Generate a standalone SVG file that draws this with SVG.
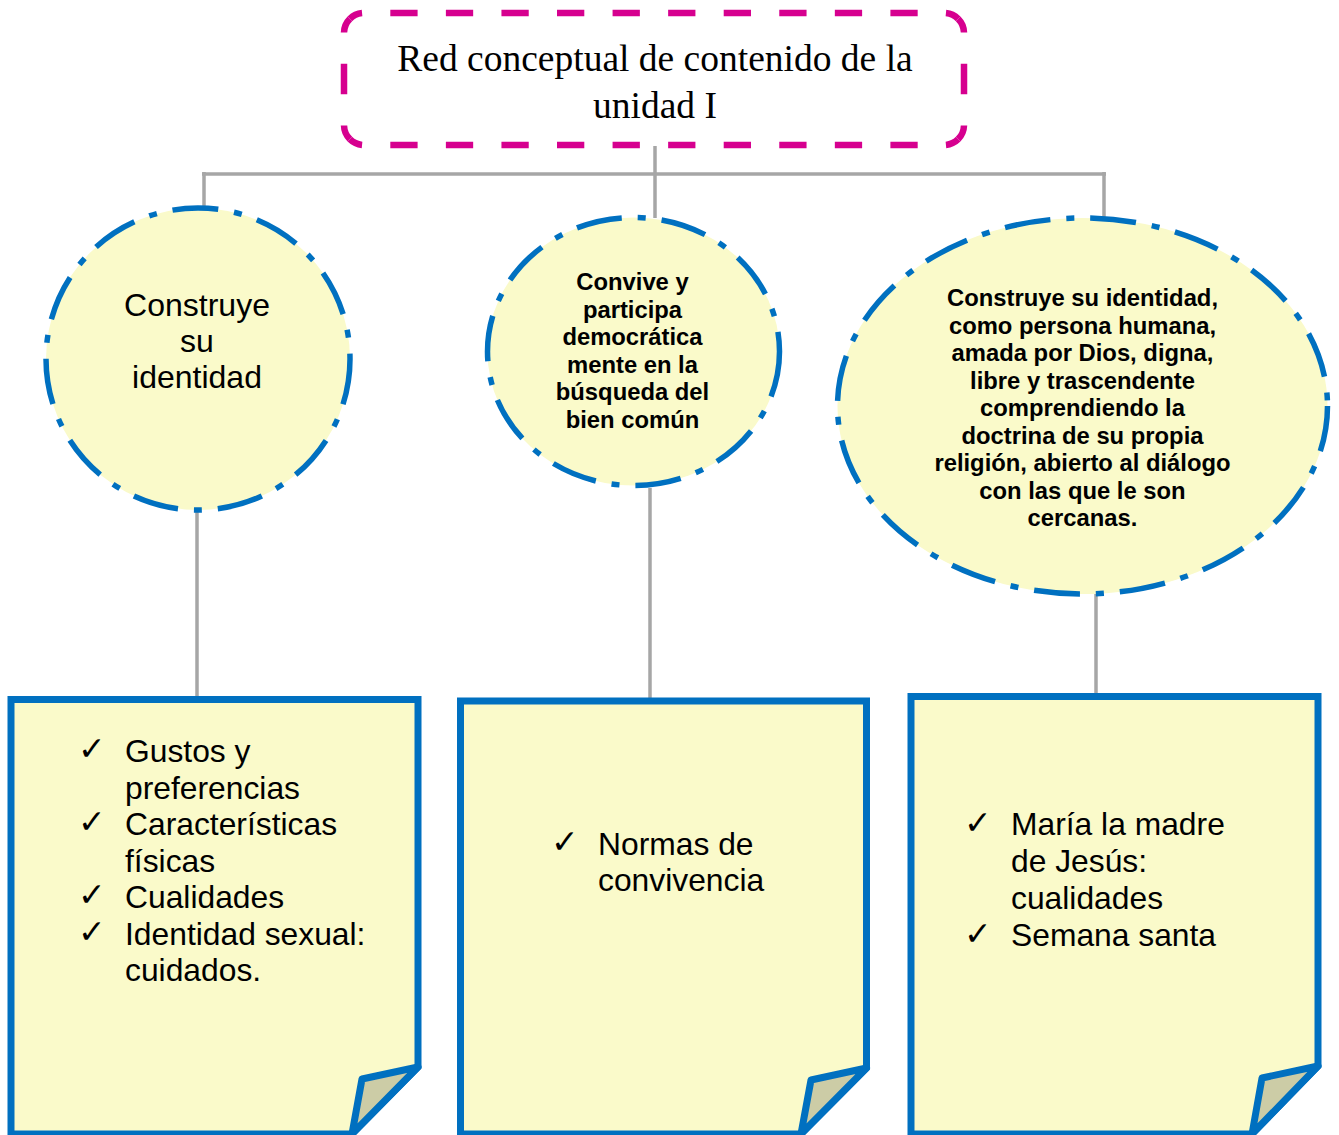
<svg xmlns="http://www.w3.org/2000/svg" width="1339" height="1135" viewBox="0 0 1339 1135">
<style>
.conn{stroke:#A6A6A6;stroke-width:3.5;fill:none}
.oval{fill:#FAFACA;stroke:#0070C0;stroke-width:5.5;stroke-dasharray:46 16 8 16}
.note{fill:#FAFACA;stroke:#0070C0;stroke-width:7;stroke-linejoin:miter}
.fold{fill:#CCCCA6;stroke:#0070C0;stroke-width:7;stroke-linejoin:round}
.reg{font-family:"Liberation Sans",Arial,sans-serif;font-size:31.8px;fill:#000}
.bold{font-family:"Liberation Sans",Arial,sans-serif;font-size:23.8px;font-weight:bold;fill:#000}
.chk{font-family:"DejaVu Sans",sans-serif;font-size:33px;fill:#000}
.title{font-family:"Liberation Serif","Times New Roman",serif;font-size:37.5px;fill:#000}
.tb{fill:none;stroke:#D6008F;stroke-width:6.5;stroke-dasharray:27.5 28.5;stroke-dashoffset:13.75}
</style>
<rect width="1339" height="1135" fill="#FFFFFF"/>
<g id="connectors">
<line class="conn" x1="655" y1="146" x2="655" y2="218"/>
<line class="conn" x1="202" y1="174" x2="1106" y2="174"/>
<line class="conn" x1="204" y1="172" x2="204" y2="208"/>
<line class="conn" x1="1104" y1="172" x2="1104" y2="219"/>
<line class="conn" x1="197" y1="512" x2="197" y2="698"/>
<line class="conn" x1="650" y1="488" x2="650" y2="700"/>
<line class="conn" x1="1096" y1="594" x2="1096" y2="696"/>
</g>
<g id="title">
<rect x="344" y="13" width="620" height="132" rx="20" ry="20" fill="#FFFFFF"/>
<path class="tb" pathLength="616" d="M349.86 18.86 A20 20 0 0 1 364 13 H944 A20 20 0 0 1 958.14 18.86"/>
<path class="tb" pathLength="112" d="M958.14 18.86 A20 20 0 0 1 964 33 V125 A20 20 0 0 1 958.14 139.14"/>
<path class="tb" pathLength="616" d="M958.14 139.14 A20 20 0 0 1 944 145 H364 A20 20 0 0 1 349.86 139.14"/>
<path class="tb" pathLength="112" d="M349.86 139.14 A20 20 0 0 1 344 125 V33 A20 20 0 0 1 349.86 18.86"/>
<text class="title" x="655" y="71" text-anchor="middle">Red conceptual de contenido de la</text>
<text class="title" x="655" y="118" text-anchor="middle">unidad I</text>
</g>
<g id="node1">
<ellipse class="oval" cx="198" cy="359" rx="152" ry="151"/>
<text class="reg" style="font-size:32px" text-anchor="middle"><tspan x="197" y="316">Construye</tspan><tspan x="197" y="352">su</tspan><tspan x="197" y="388">identidad</tspan></text>
</g>
<g id="node2">
<ellipse class="oval" cx="633.5" cy="351.5" rx="146" ry="134"/>
<text class="bold" text-anchor="middle"><tspan x="632.5" y="290">Convive y</tspan><tspan x="632.5" y="317.5">participa</tspan><tspan x="632.5" y="345">democrática</tspan><tspan x="632.5" y="372.5">mente en la</tspan><tspan x="632.5" y="400">búsqueda del</tspan><tspan x="632.5" y="427.5">bien común</tspan></text>
</g>
<g id="node3">
<ellipse class="oval" cx="1082.5" cy="406" rx="245" ry="188"/>
<text class="bold" text-anchor="middle"><tspan x="1082.5" y="306">Construye su identidad,</tspan><tspan x="1082.5" y="333.5">como persona humana,</tspan><tspan x="1082.5" y="361">amada por Dios, digna,</tspan><tspan x="1082.5" y="388.5">libre y trascendente</tspan><tspan x="1082.5" y="416">comprendiendo la</tspan><tspan x="1082.5" y="443.5">doctrina de su propia</tspan><tspan x="1082.5" y="471">religión, abierto al diálogo</tspan><tspan x="1082.5" y="498.5">con las que le son</tspan><tspan x="1082.5" y="526">cercanas.</tspan></text>
</g>
<g id="box1">
<path class="note" d="M11 699.5 H418 V1067 L352 1134 H11 Z"/>
<path class="fold" d="M418 1067 L362 1079 L352 1134 Z"/>
<text class="chk" x="78" y="760">✓</text>
<text class="chk" x="78" y="833">✓</text>
<text class="chk" x="78" y="906">✓</text>
<text class="chk" x="78" y="943">✓</text>
<text class="reg"><tspan x="125" y="762">Gustos y</tspan><tspan x="125" y="798.5">preferencias</tspan><tspan x="125" y="835">Características</tspan><tspan x="125" y="871.5">físicas</tspan><tspan x="125" y="908">Cualidades</tspan><tspan x="125" y="944.5">Identidad sexual:</tspan><tspan x="125" y="981">cuidados.</tspan></text>
</g>
<g id="box2">
<path class="note" d="M460.5 701 H866.5 V1068 L801 1134 H460.5 Z"/>
<path class="fold" d="M866.5 1068 L811 1080 L801 1134 Z"/>
<text class="chk" x="551" y="853">✓</text>
<text class="reg"><tspan x="598" y="855">Normas de</tspan><tspan x="598" y="891">convivencia</tspan></text>
</g>
<g id="box3">
<path class="note" d="M911 696.5 H1318 V1066 L1252 1134 H911 Z"/>
<path class="fold" d="M1318 1066 L1262 1078 L1252 1134 Z"/>
<text class="chk" x="964" y="834">✓</text>
<text class="chk" x="964" y="945">✓</text>
<text class="reg"><tspan x="1011" y="835">María la madre</tspan><tspan x="1011" y="872">de Jesús:</tspan><tspan x="1011" y="909">cualidades</tspan><tspan x="1011" y="946">Semana santa</tspan></text>
</g>
</svg>
